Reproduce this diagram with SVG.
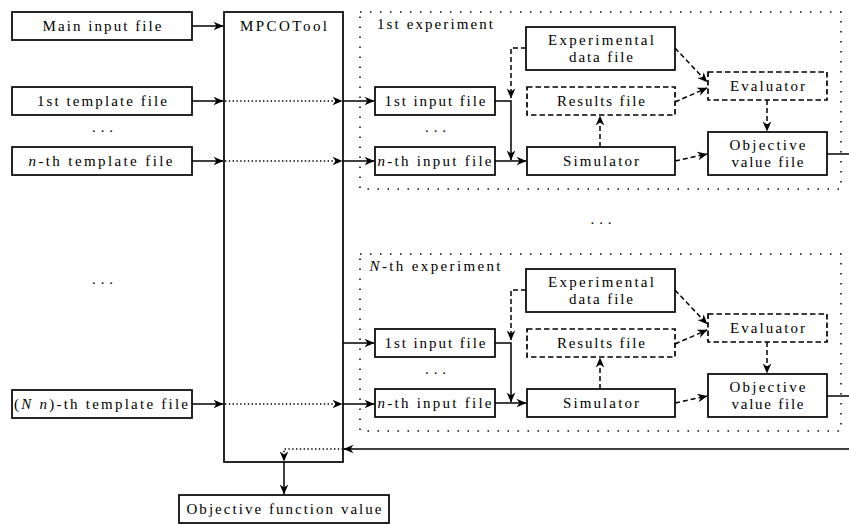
<svg xmlns="http://www.w3.org/2000/svg" width="849" height="524" viewBox="0 0 849 524">
<style>
.b{fill:#fff;stroke:#000;stroke-width:1.7}
.bd{fill:#fff;stroke:#000;stroke-width:1.7;stroke-dasharray:5.5 3}
.exp{fill:none;stroke:#000;stroke-width:1.5;stroke-dasharray:1.5 8.5;stroke-linecap:butt}
.t{font-family:"Liberation Serif","Times New Roman",serif;font-size:15px;text-anchor:middle;fill:#000}
.c{fill:none;stroke:#000;stroke-width:1.5}
.cd{fill:none;stroke:#000;stroke-width:1.5;stroke-dasharray:5 3}
.co{fill:none;stroke:#000;stroke-width:1.5;stroke-dasharray:1.4 2.4}
.i{font-style:italic}
</style>
<defs>
<marker id="a" viewBox="-11 -6 12 12" refX="0" refY="0" markerWidth="12" markerHeight="12" markerUnits="userSpaceOnUse" orient="auto">
<path d="M0.5,0 L-9.5,-4.3 L-6.5,0 L-9.5,4.3 Z" fill="#000"/>
</marker>
</defs>

<!-- left nodes -->
<g id="main-input"><rect class="b" x="12" y="12" width="180" height="28"/><text class="t" x="102" y="30.5" textLength="119">Main input file</text></g>
<g id="tpl-1"><rect class="b" x="12" y="87" width="180" height="28"/><text class="t" x="102" y="105.5" textLength="130">1st template file</text></g>
<text class="t" x="102.5" y="132" textLength="21">...</text>
<g id="tpl-n"><rect class="b" x="12" y="147" width="180" height="28"/><text class="t" x="100.5" y="165.5" textLength="144"><tspan class="i">n</tspan>-th template file</text></g>
<text class="t" x="102.5" y="284" textLength="21">...</text>
<g id="tpl-Nn"><rect class="b" x="12" y="390" width="180" height="28"/><text class="t" x="101" y="408.5" textLength="174">(<tspan class="i">N n</tspan>)-th template file</text></g>

<g id="mpcotool"><rect class="b" x="224" y="12" width="119" height="450"/><text class="t" x="283.5" y="30.5" textLength="87">MPCOTool</text></g>

<g id="objfun"><rect class="b" x="179" y="495" width="210" height="28"/><text class="t" x="284" y="513.5" textLength="195">Objective function value</text></g>

<text class="t" x="601" y="223.5" textLength="21">...</text>

<!-- experiment 1 -->
<g id="exp1">
<rect class="exp" x="360" y="12" width="481" height="177"/>
<text class="t" x="435" y="28.5" textLength="116">1st experiment</text>
</g>
<g id="exp1-in1"><rect class="b" x="375" y="87" width="120" height="28"/><text class="t" x="435" y="105.5" textLength="101">1st input file</text></g>
<text class="t" x="435.5" y="132" textLength="21">...</text>
<g id="exp1-inn"><rect class="b" x="375" y="147" width="120" height="28"/><text class="t" x="434.5" y="165.5" textLength="114"><tspan class="i">n</tspan>-th input file</text></g>
<g id="exp1-data"><rect class="b" x="526" y="27" width="149" height="43"/><text class="t" x="601" y="45" textLength="106">Experimental</text><text class="t" x="601" y="62" textLength="64">data file</text></g>
<g id="exp1-results"><rect class="bd" x="527" y="87" width="148" height="28"/><text class="t" x="601" y="105.5" textLength="88">Results file</text></g>
<g id="exp1-sim"><rect class="b" x="527" y="147" width="148" height="28"/><text class="t" x="601" y="165.5" textLength="76">Simulator</text></g>
<g id="exp1-eval"><rect class="bd" x="708" y="72" width="119" height="28"/><text class="t" x="767.5" y="90.5" textLength="75">Evaluator</text></g>
<g id="exp1-obj"><rect class="b" x="708" y="132" width="119" height="43"/><text class="t" x="767.5" y="149.5" textLength="76">Objective</text><text class="t" x="767.5" y="166.5" textLength="72">value file</text></g>

<!-- experiment N -->
<g id="expN">
<rect class="exp" x="360" y="254" width="481" height="177"/>
<text class="t" x="435" y="270.5" textLength="131"><tspan class="i">N</tspan>-th experiment</text>
</g>
<g id="expN-in1"><rect class="b" x="375" y="329" width="120" height="28"/><text class="t" x="435" y="347.5" textLength="101">1st input file</text></g>
<text class="t" x="435.5" y="374" textLength="21">...</text>
<g id="expN-inn"><rect class="b" x="375" y="389" width="120" height="28"/><text class="t" x="434.5" y="407.5" textLength="114"><tspan class="i">n</tspan>-th input file</text></g>
<g id="expN-data"><rect class="b" x="526" y="269" width="149" height="43"/><text class="t" x="601" y="287" textLength="106">Experimental</text><text class="t" x="601" y="304" textLength="64">data file</text></g>
<g id="expN-results"><rect class="bd" x="527" y="329" width="148" height="28"/><text class="t" x="601" y="347.5" textLength="88">Results file</text></g>
<g id="expN-sim"><rect class="b" x="527" y="389" width="148" height="28"/><text class="t" x="601" y="407.5" textLength="76">Simulator</text></g>
<g id="expN-eval"><rect class="bd" x="708" y="314" width="119" height="28"/><text class="t" x="767.5" y="332.5" textLength="75">Evaluator</text></g>
<g id="expN-obj"><rect class="b" x="708" y="374" width="119" height="43"/><text class="t" x="767.5" y="391.5" textLength="76">Objective</text><text class="t" x="767.5" y="408.5" textLength="72">value file</text></g>

<g id="connectors">
<path class="c" d="M192,26 H223" marker-end="url(#a)"/>
<path class="c" d="M192,101 H223" marker-end="url(#a)"/>
<path class="co" d="M225,101 H342" marker-end="url(#a)"/>
<path class="c" d="M343,101 H374" marker-end="url(#a)"/>
<path class="c" d="M192,161 H223" marker-end="url(#a)"/>
<path class="co" d="M225,161 H342" marker-end="url(#a)"/>
<path class="c" d="M343,161 H374" marker-end="url(#a)"/>
<path class="c" d="M343,343 H374" marker-end="url(#a)"/>
<path class="c" d="M192,404 H223" marker-end="url(#a)"/>
<path class="co" d="M225,404 H342" marker-end="url(#a)"/>
<path class="c" d="M343,404 H374" marker-end="url(#a)"/>

<path class="c" d="M495,101 H511 V160" marker-end="url(#a)"/>
<path class="c" d="M495,161 H526" marker-end="url(#a)"/>
<path class="cd" d="M526,48 H511 V98" marker-end="url(#a)"/>
<path class="cd" d="M600,147 V116" marker-end="url(#a)"/>
<path class="cd" d="M675,48 L707,82" marker-end="url(#a)"/>
<path class="cd" d="M675,102 L707,88" marker-end="url(#a)"/>
<path class="cd" d="M767,100 V131" marker-end="url(#a)"/>
<path class="cd" d="M675,161 L707,154" marker-end="url(#a)"/>
<path class="c" d="M827,154 H849"/>

<path class="c" d="M495,343 H511 V402" marker-end="url(#a)"/>
<path class="c" d="M495,403 H526" marker-end="url(#a)"/>
<path class="cd" d="M526,290 H511 V340" marker-end="url(#a)"/>
<path class="cd" d="M600,389 V358" marker-end="url(#a)"/>
<path class="cd" d="M675,290 L707,324" marker-end="url(#a)"/>
<path class="cd" d="M675,344 L707,330" marker-end="url(#a)"/>
<path class="cd" d="M767,342 V373" marker-end="url(#a)"/>
<path class="cd" d="M675,403 L707,396" marker-end="url(#a)"/>
<path class="c" d="M827,396 H849"/>

<path class="c" d="M849,449 H344" marker-end="url(#a)"/>
<path class="co" d="M343,449 H284 V461" marker-end="url(#a)"/>
<path class="c" d="M284,462 V494" marker-end="url(#a)"/>
</g>
</svg>
